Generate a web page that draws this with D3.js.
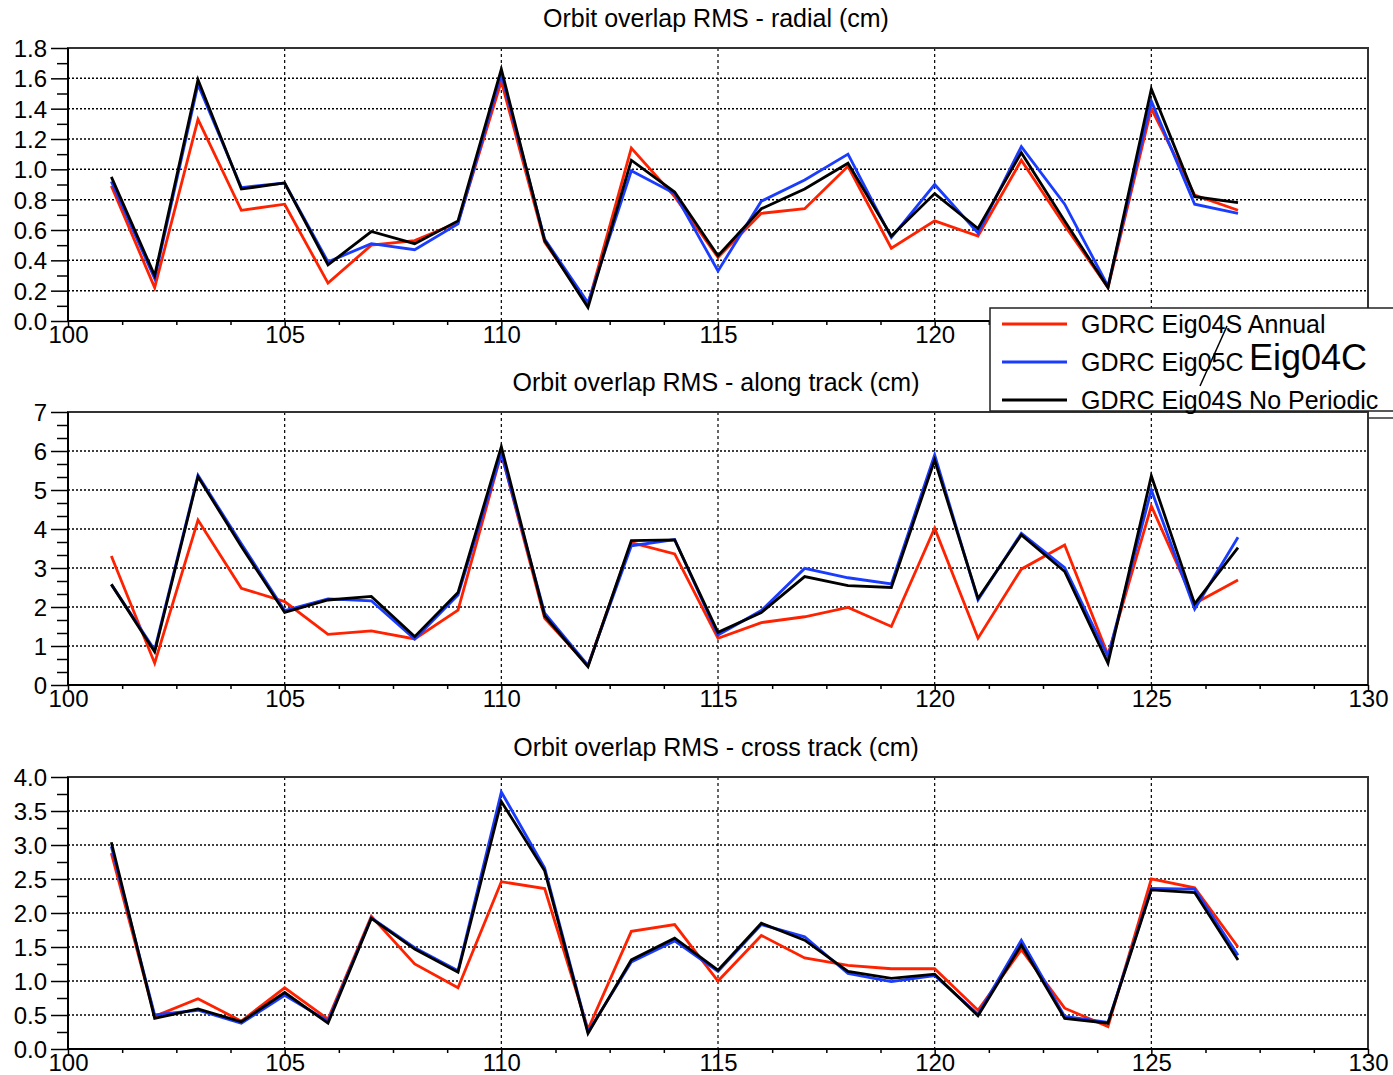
<!DOCTYPE html>
<html>
<head>
<meta charset="utf-8">
<script src="https://cdn.jsdelivr.net/npm/d3@7"></script>
<style>
  body { margin: 0; background: #fff; }
  svg { display: block; font-family: "Liberation Sans", Arial, Helvetica, sans-serif; }
</style>
</head>
<body>
<svg id="chart" width="1393" height="1075"></svg>
<script>
// Cycle numbers on the x axis
const cycles = [101,102,103,104,105,106,107,108,109,110,111,112,113,114,115,116,117,118,119,120,121,122,123,124,125,126,127];

// Radial RMS (cm)
const radialAnnual     = [0.89,0.22,1.33,0.73,0.77,0.25,0.50,0.53,0.65,1.58,0.52,0.11,1.14,0.82,0.42,0.71,0.74,1.02,0.48,0.66,0.56,1.06,0.63,0.22,1.40,0.83,0.73];
const radialEig05C     = [0.92,0.28,1.56,0.88,0.91,0.39,0.51,0.47,0.64,1.63,0.54,0.12,0.99,0.84,0.33,0.79,0.93,1.10,0.55,0.90,0.58,1.15,0.77,0.23,1.45,0.77,0.71];
const radialNoPeriodic = [0.95,0.30,1.59,0.87,0.91,0.37,0.59,0.51,0.66,1.66,0.53,0.09,1.06,0.85,0.43,0.74,0.87,1.04,0.56,0.84,0.61,1.11,0.66,0.22,1.53,0.82,0.78];

// Along-track RMS (cm)
const alongAnnual      = [3.31,0.56,4.23,2.48,2.14,1.30,1.39,1.18,1.92,5.94,1.71,0.50,3.65,3.36,1.20,1.60,1.75,1.99,1.50,4.02,1.20,2.97,3.59,0.77,4.59,2.09,2.69];
const alongEig05C      = [2.58,0.90,5.38,3.62,1.91,2.21,2.16,1.18,2.31,5.94,1.84,0.50,3.57,3.73,1.28,1.91,2.99,2.75,2.59,5.90,2.18,3.89,3.01,0.73,5.00,1.95,3.79];
const alongNoPeriodic  = [2.58,0.85,5.34,3.55,1.86,2.18,2.27,1.24,2.37,6.11,1.77,0.47,3.70,3.72,1.35,1.86,2.78,2.55,2.50,5.77,2.22,3.85,2.91,0.56,5.36,2.08,3.52];

// Cross-track RMS (cm)
const crossAnnual      = [2.88,0.48,0.74,0.41,0.90,0.44,1.95,1.25,0.90,2.46,2.36,0.29,1.73,1.83,1.00,1.67,1.34,1.23,1.18,1.18,0.57,1.46,0.60,0.33,2.50,2.37,1.50];
const crossEig05C      = [2.98,0.50,0.57,0.38,0.79,0.41,1.93,1.49,1.15,3.78,2.66,0.25,1.28,1.59,1.14,1.83,1.65,1.11,0.99,1.08,0.51,1.60,0.48,0.39,2.36,2.35,1.38];
const crossNoPeriodic  = [3.04,0.45,0.59,0.40,0.83,0.38,1.92,1.47,1.13,3.64,2.62,0.23,1.31,1.63,1.16,1.85,1.60,1.14,1.04,1.10,0.49,1.53,0.45,0.38,2.34,2.30,1.31];

// Axis ticks
const xMajorTicks = [100,105,110,115,120,125,130];
const xMinorTicks = [101.25,102.5,103.75,106.25,107.5,108.75,111.25,112.5,113.75,116.25,117.5,118.75,121.25,122.5,123.75,126.25,127.5,128.75];
const radialTicks = [0,0.2,0.4,0.6,0.8,1.0,1.2,1.4,1.6,1.8];
const radialMinor = [0.1,0.3,0.5,0.7,0.9,1.1,1.3,1.5,1.7];
const alongTicks  = [0,1,2,3,4,5,6,7];
const alongMinor  = [1/3,2/3,4/3,5/3,7/3,8/3,10/3,11/3,13/3,14/3,16/3,17/3,19/3,20/3];
const crossTicks  = [0,0.5,1.0,1.5,2.0,2.5,3.0,3.5,4.0];
const crossMinor  = [0.25,0.75,1.25,1.75,2.25,2.75,3.25,3.75];

const seriesNames  = ["GDRC Eig04S Annual", "GDRC Eig05C", "GDRC Eig04S No Periodic"];
const seriesColors = ["#ff2200", "#1a3cff", "#000000"];

const panels = [
  { title: "Orbit overlap RMS - radial (cm)", top: 48, bottom: 321, max: 1.8,
    ticks: radialTicks, minor: radialMinor, fmt: d3.format(".1f"),
    xLabels: [100,105,110,115,120],
    data: [radialAnnual, radialEig05C, radialNoPeriodic] },
  { title: "Orbit overlap RMS - along track (cm)", top: 412, bottom: 685, max: 7,
    ticks: alongTicks, minor: alongMinor, fmt: d3.format("d"),
    xLabels: xMajorTicks,
    data: [alongAnnual, alongEig05C, alongNoPeriodic] },
  { title: "Orbit overlap RMS - cross track (cm)", top: 777, bottom: 1049, max: 4,
    ticks: crossTicks, minor: crossMinor, fmt: d3.format(".1f"),
    xLabels: xMajorTicks,
    data: [crossAnnual, crossEig05C, crossNoPeriodic] }
];

const svg = d3.select("#chart");
const left = 68, right = 1368;
const x = d3.scaleLinear().domain([100, 130]).range([left, right]);

panels.forEach(p => {
  const y = d3.scaleLinear().domain([0, p.max]).range([p.bottom, p.top]);
  const g = svg.append("g");

  g.append("rect").attr("x", left).attr("y", p.top)
    .attr("width", right - left).attr("height", p.bottom - p.top)
    .attr("fill", "#fff");

  // horizontal dotted grid
  g.selectAll(".hgrid").data(p.ticks.filter(t => t > 0 && t < p.max)).enter()
    .append("line")
    .attr("x1", left).attr("x2", right)
    .attr("y1", d => y(d)).attr("y2", d => y(d))
    .attr("stroke", "#000").attr("stroke-width", 1.5)
    .attr("stroke-dasharray", "2,2");

  // vertical dashed grid
  g.selectAll(".vgrid").data(xMajorTicks.filter(t => t > 100 && t < 130)).enter()
    .append("line")
    .attr("x1", d => x(d)).attr("x2", d => x(d))
    .attr("y1", p.top).attr("y2", p.bottom)
    .attr("stroke", "#000").attr("stroke-width", 1.2)
    .attr("stroke-dasharray", "3,3");

  // data lines
  const line = d3.line().x((d, i) => x(cycles[i])).y(d => y(d));
  p.data.forEach((vals, k) => {
    g.append("path").datum(vals)
      .attr("d", line)
      .attr("fill", "none")
      .attr("stroke", seriesColors[k])
      .attr("stroke-width", 2.8)
      .attr("stroke-linejoin", "miter");
  });

  // frame
  g.append("rect").attr("x", left).attr("y", p.top)
    .attr("width", right - left).attr("height", p.bottom - p.top)
    .attr("fill", "none").attr("stroke", "#333").attr("stroke-width", 2);

  // y axis
  const yMinorAxis = g.append("g").attr("transform", `translate(${left},0)`)
    .call(d3.axisLeft(y).tickValues(p.minor).tickSize(11).tickFormat(""));
  const yAxis = g.append("g").attr("transform", `translate(${left},0)`)
    .call(d3.axisLeft(y).tickValues(p.ticks).tickSize(17).tickPadding(4).tickFormat(p.fmt));

  // x axis
  const xMinorAxis = g.append("g").attr("transform", `translate(0,${p.bottom})`)
    .call(d3.axisBottom(x).tickValues(xMinorTicks).tickSize(4).tickFormat(""));
  const xAxis = g.append("g").attr("transform", `translate(0,${p.bottom})`)
    .call(d3.axisBottom(x).tickValues(p.xLabels).tickSize(5).tickPadding(0).tickFormat(d3.format("d")));

  [yMinorAxis, yAxis, xMinorAxis, xAxis].forEach(a => {
    a.select(".domain").remove();
    a.selectAll("line").attr("stroke", "#000").attr("stroke-width", 1.5);
    a.selectAll("text").attr("fill", "#000")
      .style("font-size", "24px")
      .style("font-family", "'Liberation Sans', Arial, sans-serif");
  });
  yAxis.selectAll("text").attr("dy", "0.36em");
  g.append("line").attr("x1", left).attr("x2", left)
    .attr("y1", p.top).attr("y2", p.bottom).attr("stroke", "#000").attr("stroke-width", 2);
  g.append("line").attr("x1", left).attr("x2", right)
    .attr("y1", p.bottom).attr("y2", p.bottom).attr("stroke", "#000").attr("stroke-width", 2);

  // title
  svg.append("text")
    .attr("x", 716).attr("y", p.top - 21)
    .attr("text-anchor", "middle")
    .style("font-size", "25px")
    .attr("fill", "#000")
    .text(p.title);
});

// legend
const lg = svg.append("g");
lg.append("line").attr("x1", 1367).attr("x2", 1393).attr("y1", 418).attr("y2", 418)
  .attr("stroke", "#333").attr("stroke-width", 1.5);
lg.append("rect").attr("x", 990).attr("y", 308).attr("width", 430).attr("height", 103)
  .attr("fill", "#fff").attr("stroke", "#222").attr("stroke-width", 1.5);
const legendRows = [324, 362, 400];
seriesNames.forEach((name, k) => {
  lg.append("line").attr("x1", 1002).attr("x2", 1067)
    .attr("y1", legendRows[k]).attr("y2", legendRows[k])
    .attr("stroke", seriesColors[k]).attr("stroke-width", 3);
  lg.append("text").attr("x", 1081).attr("y", legendRows[k] + 8.5)
    .style("font-size", "25px").attr("fill", "#000").text(name);
});
lg.append("text").attr("x", 1249).attr("y", 370)
  .style("font-size", "36px").attr("fill", "#000").text("Eig04C");
lg.append("line").attr("x1", 1227).attr("y1", 326).attr("x2", 1200).attr("y2", 386)
  .attr("stroke", "#000").attr("stroke-width", 1.5);
</script>
</body>
</html>
